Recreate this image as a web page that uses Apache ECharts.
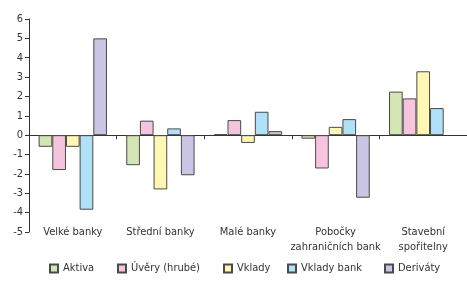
<!DOCTYPE html>
<html>
<head>
<meta charset="utf-8">
<script src="https://cdn.jsdelivr.net/npm/echarts@6/dist/echarts.min.js"></script>
<style>
  html, body { margin: 0; padding: 0; background: #fff; }
  #chart { width: 467px; height: 283px; }
</style>
</head>
<body>
<div id="chart"></div>
<script>
const categories = ['Velké banky', 'Střední banky', 'Malé banky', 'Pobočky\nzahraničních bank', 'Stavební\nspořitelny']
const seriesNames = ['Aktiva', 'Úvěry (hrubé)', 'Vklady', 'Vklady bank', 'Deriváty']
const aktiva = [-0.6, -1.55, 0.05, -0.18, 2.25]
const uvery = [-1.8, 0.75, 0.78, -1.72, 1.9]
const vklady = [-0.6, -2.8, -0.4, 0.43, 3.3]
const vkladyBank = [-3.85, 0.35, 1.21, 0.83, 1.4]
const derivaty = [5.0, -2.07, 0.21, -3.23, null]
const yTicks = [-5, -4, -3, -2, -1, 0, 1, 2, 3, 4, 5, 6]

const colors = ['#d3e6b3', '#f6c4dc', '#fff8b3', '#b0e1f8', '#c9c5e2']
const font = "'DejaVu Sans Condensed', 'Liberation Sans Narrow', sans-serif"
const legendLeft = [49, 117, 223, 287, 384]

const chart = echarts.init(document.getElementById('chart'))

const allData = [aktiva, uvery, vklady, vkladyBank, derivaty]

chart.setOption({
  animation: false,
  textStyle: { fontFamily: font },
  grid: { left: 29, right: 0, top: 19, bottom: 51 },
  legend: seriesNames.map((n, i) => ({
    data: [n],
    left: legendLeft[i],
    top: 263,
    padding: 0,
    itemWidth: 8,
    itemHeight: 8,
    icon: 'rect',
    textStyle: { fontSize: 11, color: '#333', fontFamily: font }
  })),
  xAxis: [
    {
      type: 'category',
      data: categories,
      position: 'bottom',
      axisLine: { onZero: true, lineStyle: { color: '#333', width: 1 } },
      axisTick: { show: true, interval: 0, length: 4, lineStyle: { color: '#333' } },
      axisLabel: { show: false }
    },
    {
      type: 'category',
      data: categories,
      position: 'bottom',
      axisLine: { show: false, onZero: false },
      axisTick: { show: false },
      axisLabel: { interval: 0, fontSize: 11, color: '#333', margin: -7, lineHeight: 15, fontFamily: font }
    }
  ],
  yAxis: {
    type: 'value',
    min: yTicks[0],
    max: yTicks[yTicks.length - 1],
    interval: 1,
    axisLine: { show: true, lineStyle: { color: '#333' } },
    axisTick: { show: true, length: 4, lineStyle: { color: '#333' } },
    splitLine: { show: false },
    axisLabel: { fontSize: 11, color: '#333', margin: 6, fontFamily: font }
  },
  series: seriesNames.map((n, i) => ({
    name: n,
    type: 'bar',
    xAxisIndex: 0,
    data: allData[i],
    barGap: '0%',
    barCategoryGap: '22%',
    itemStyle: { color: colors[i], borderColor: '#4a4a4a', borderWidth: 1 }
  }))
})
</script>
</body>
</html>
